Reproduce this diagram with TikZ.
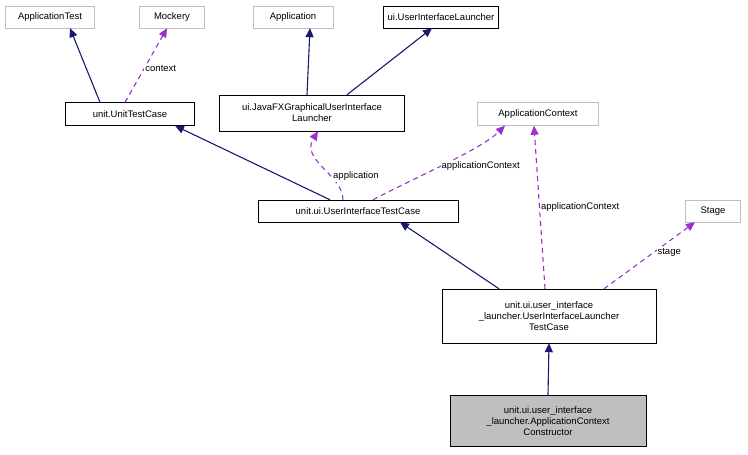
\documentclass[tikz,border=0pt]{standalone}
\usepackage{fontspec}
\setmainfont{Liberation Sans}
\usetikzlibrary{arrows.meta}

\definecolor{navy}{RGB}{25,25,112}
\definecolor{usecol}{RGB}{153,50,204}
\definecolor{grayline}{RGB}{191,191,191}

\begin{document}
\begin{tikzpicture}[
    x=1pt, y=-1pt,
    every node/.style={font=\fontsize{9.5}{11}\selectfont, align=center, inner sep=2pt},
    cls/.style={draw=black, fill=white, inner xsep=4pt}, % documented class
    ext/.style={draw=grayline, fill=white, inner xsep=4pt}, % external class
    inherit/.style={draw=navy, line width=1.1pt, -{Triangle[length=9pt,width=8pt]}},
    uses/.style={draw=usecol, line width=1.1pt, dash pattern=on 5pt off 4pt, -{Triangle[length=9pt,width=8pt]}},
    lbl/.style={fill=white, inner sep=1pt}
]
\useasboundingbox (0,0) rectangle (748,455);

% top row
\node[ext, minimum width=89pt, minimum height=22pt] (apptest) at (50,17) {ApplicationTest};
\node[ext, minimum width=65pt, minimum height=22pt] (mockery) at (172,17) {Mockery};
\node[ext, minimum width=80pt, minimum height=22pt] (app) at (293,17) {Application};
\node[cls, minimum width=110pt, minimum height=22pt] (uil) at (441,17) {ui.UserInterfaceLauncher};

% second row
\node[cls, minimum width=129pt, minimum height=23pt] (utc) at (130,114) {unit.UnitTestCase};
\node[cls, minimum width=185pt, minimum height=36pt] (javafx) at (312,113) {ui.JavaFXGraphicalUserInterface\\Launcher};
\node[ext, minimum width=121pt, minimum height=23pt] (appctx) at (538,114) {ApplicationContext};

% third row
\node[cls, minimum width=200pt, minimum height=22pt] (uitc) at (358,211) {unit.ui.UserInterfaceTestCase};
\node[ext, minimum width=55pt, minimum height=22pt] (stage) at (713,211) {Stage};

% lower rows
\node[cls, minimum width=214pt, minimum height=54pt] (uiltc) at (549,316) {unit.ui.user\_interface\\\_launcher.UserInterfaceLauncher\\TestCase};
\node[draw=black, fill=black!25, minimum width=196pt, minimum height=51pt] (actor) at (548,421) {unit.ui.user\_interface\\\_launcher.ApplicationContext\\Constructor};

% connectors
\draw[inherit] ([xshift=-30pt]utc.north) -- ([xshift=20pt]apptest.south);
\draw[uses] ([xshift=-5pt]utc.north) -- ([xshift=-5pt]mockery.south) node[lbl, pos=0.45, right] {context};
\draw[inherit] ([xshift=-5pt]javafx.north) -- ([xshift=17pt]app.south);
\draw[inherit] ([xshift=35pt]javafx.north) -- ([xshift=-9pt]uil.south);
\draw[inherit] ([xshift=-28pt]uitc.north) -- ([xshift=45pt]utc.south);
\draw[uses] ([xshift=-15pt]uitc.north) .. controls (343,175) and (300,160) .. ([xshift=6pt]javafx.south) node[lbl, pos=0.35, right] {application};
\draw[uses] ([xshift=15pt]uitc.north) .. controls (420,175) and (480,150) .. ([xshift=-33pt]appctx.south) node[lbl, pos=0.45, right] {applicationContext};
\draw[inherit] ([xshift=-50pt]uiltc.north) -- ([xshift=42pt]uitc.south);
\draw[uses] ([xshift=-4pt]uiltc.north) -- ([xshift=-4pt]appctx.south) node[lbl, pos=0.5, right] {applicationContext};
\draw[uses] ([xshift=55pt]uiltc.north) -- ([xshift=-18pt]stage.south) node[lbl, pos=0.55, right=2pt] {stage};
\draw[inherit] (actor.north) -- (uiltc.south);
\end{tikzpicture}
\end{document}
